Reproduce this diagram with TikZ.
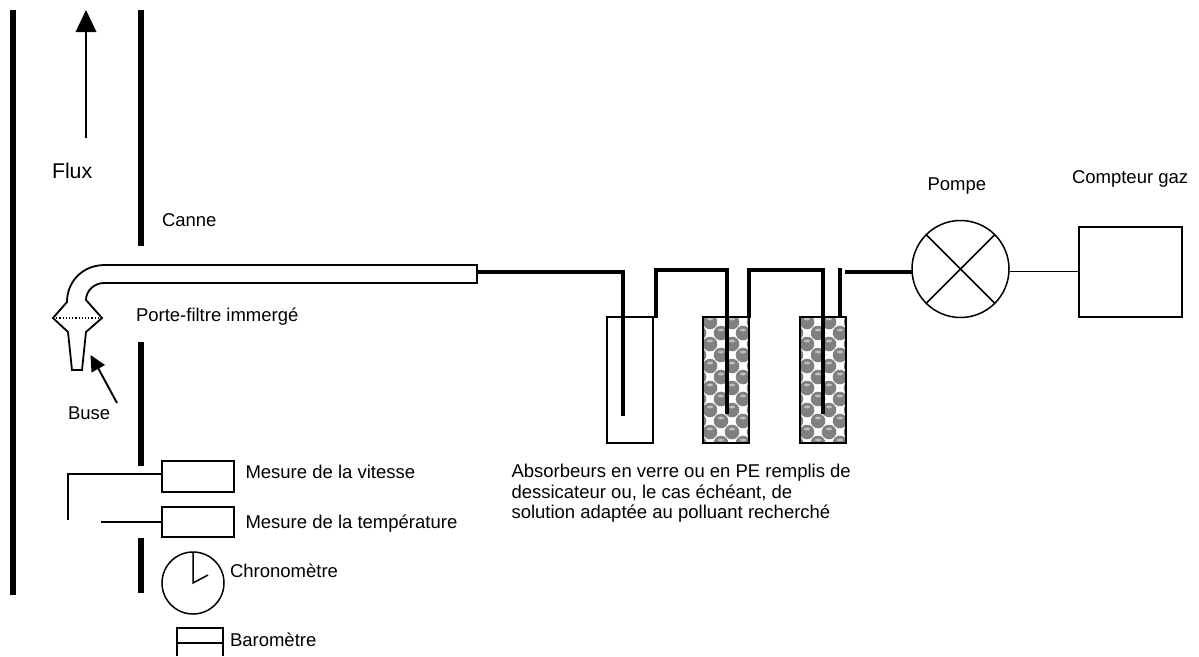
\documentclass[tikz,border=0pt]{standalone}
\usepackage{fontspec}
\setmainfont{Liberation Sans}
\usetikzlibrary{calc}
\definecolor{ballgray}{gray}{0.5}
\definecolor{balllight}{gray}{0.75}
\tikzset{
  wall/.style={line width=6pt},
  tube/.style={line width=4.4pt,line join=miter},
  thin line/.style={line width=1.7pt},
  med line/.style={line width=1.8pt},
  boxn/.style={draw,line width=1.7pt,inner sep=0pt,outer sep=0pt,fill=white},
  lab/.style={inner sep=0pt,outer sep=0pt,anchor=base west,font=\fontsize{18.5}{20.7}\selectfont},
  arrowhead/.style={fill=black,draw=none}
}
\newcommand{\ballfill}[1]{%
  \begin{scope}
    \clip (#1.north west) rectangle (#1.south east);
    \foreach \i in {0,...,5} \foreach \j in {0,...,11} {
      \pgfmathtruncatemacro{\checkpar}{mod(\i+\j,2)}
      \ifnum\checkpar=1
        \fill[ballgray] ($(#1.north west)+(\i*11-4,\j*11+5)$) circle (7.3);
        \fill[balllight] ($(#1.north west)+(\i*11-4,\j*11+2)$) ellipse (3 and 1.4);
      \fi
    }
  \end{scope}
  \draw[line width=1.7pt] (#1.north west) rectangle (#1.south east);
}
\begin{document}
\begin{tikzpicture}[x=1pt,y=-1pt]
\useasboundingbox (0,0) rectangle (1199,656);
% walls
\coordinate (wl1) at (13,10); \coordinate (wl2) at (13,595);
\coordinate (wr1) at (141,10); \coordinate (wr2) at (141,246);
\coordinate (wr3) at (141,342); \coordinate (wr4) at (141,466);
\coordinate (wr5) at (141,538); \coordinate (wr6) at (141,593);
\draw[wall] (wl1) -- (wl2);
\draw[wall] (wr1) -- (wr2);
\draw[wall] (wr3) -- (wr4);
\draw[wall] (wr5) -- (wr6);
% flux arrow
\coordinate (fa) at (86,138); \coordinate (fb) at (86,30);
\draw[med line] (fa) -- (fb);
\fill[arrowhead] (86,10) -- (96.5,32) -- (75.5,32) -- cycle;
\node[lab,font=\fontsize{21.3}{24}\selectfont] (flux) at (52,178) {Flux};
\node[lab] (canne) at (162,226) {Canne};
\node[lab] (porte) at (136,321) {Porte-filtre immergé};
\node[lab] (buse) at (68,419) {Buse};
% probe
\draw[med line,line join=miter]
  (477,265) -- (105,265) .. controls (82,265) and (67,282) .. (67,302)
  -- (53,318) -- (68,332) -- (72,370) -- (82,370) -- (86,332) -- (102,318) -- (86,300)
  .. controls (86,291) and (94,283) .. (104,283) -- (477,283) -- cycle;
\coordinate (fl) at (53,318); \coordinate (fr) at (102,318);
\draw[line width=1.2pt,dotted] (fl) -- (fr);
% buse arrow
\coordinate (ba) at (117,403); \coordinate (bb) at (97,366);
\draw[line width=1.9pt] (ba) -- (bb);
\fill[arrowhead] (90.5,355) -- (105,365) -- (91.5,372.5) -- cycle;
% measures
\node[boxn,minimum width=72pt,minimum height=31pt] (vit) at (198,476.5) {};
\node[boxn,minimum width=72pt,minimum height=30pt] (temp) at (198,522) {};
\node[lab] at (245.5,478) {Mesure de la vitesse};
\node[lab] at (245.5,528) {Mesure de la température};
\coordinate (v1) at (68,474); \coordinate (v2) at (68,520); \coordinate (t1) at (101,522);
\draw[thin line] (v2) -- (v1) -- (v1 -| vit.west);
\draw[thin line] (t1) -- (t1 -| temp.west);
% clock
\node[draw,circle,line width=1.5pt,minimum size=62pt,inner sep=0pt,outer sep=0pt] (clock) at (193,583) {};
\coordinate (h1) at (208,575);
\draw[line width=1.5pt] (clock.north) -- (clock.center) -- (h1);
\node[lab] at (230,577) {Chronomètre};
% barometer
\coordinate (b1) at (177,628); \coordinate (b2) at (223,628);
\coordinate (b3) at (177,656); \coordinate (b4) at (223,656);
\coordinate (b5) at (177,643); \coordinate (b6) at (223,643);
\draw[line width=1.5pt] (b3) -- (b1) -- (b2) -- (b4) (b5) -- (b6);
\node[lab] at (230,646) {Baromètre};
% absorbers
\node[boxn,minimum width=46pt,minimum height=126pt] (a1) at (630,380) {};
\node[inner sep=0pt,outer sep=0pt,minimum width=46pt,minimum height=126pt] (a2) at (726,380) {};
\node[inner sep=0pt,outer sep=0pt,minimum width=46pt,minimum height=126pt] (a3) at (823,380) {};
\ballfill{a2}
\ballfill{a3}
\node[lab,anchor=west,align=left] at (511.5,493.5) {Absorbeurs en verre ou en PE remplis de\\dessicateur ou, le cas échéant, de\\solution adaptée au polluant recherché};
% pump and meter
\node[draw,circle,line width=1.5pt,minimum size=97pt,inner sep=0pt,outer sep=0pt] (pump) at (960.5,269) {};
\draw[line width=1.5pt] (pump.45) -- (pump.225) (pump.135) -- (pump.-45);
\node[boxn,minimum width=103pt,minimum height=90pt] (meter) at (1130.5,272) {};
\node[lab] at (927.5,190) {Pompe};
\node[lab] at (1072,183) {Compteur gaz};
\coordinate (p1) at (1010,271.5);
\draw[thin line] (p1) -- (p1 -| meter.west);
% tubes
\coordinate (s0) at (477,272); \coordinate (s1) at (623,416);
\draw[tube] (s0) -| (s1);
\coordinate (s2) at (656,318); \coordinate (s3) at (656,270); \coordinate (s4) at (727,270); \coordinate (s5) at (727,414);
\draw[tube] (s2) -- (s3) -- (s4) -- (s5);
\coordinate (s6) at (749,318); \coordinate (s7) at (749,270); \coordinate (s8) at (823,270); \coordinate (s9) at (823,414);
\draw[tube] (s6) -- (s7) -- (s8) -- (s9);
\coordinate (s10) at (840,318); \coordinate (s11) at (840,268);
\draw[tube] (s10) -- (s11);
\coordinate (s12) at (845,272);
\draw[tube] (s12) -- (s12 -| pump.west);
\end{tikzpicture}
\end{document}
